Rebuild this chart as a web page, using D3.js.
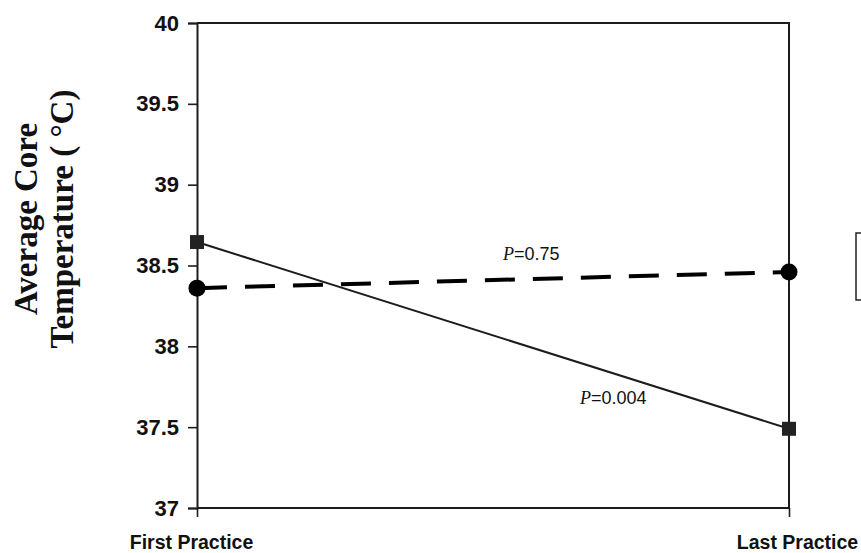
<!DOCTYPE html>
<html>
<head>
<meta charset="utf-8">
<script src="https://cdn.jsdelivr.net/npm/d3@7/dist/d3.min.js"></script>
<style>
  html, body { margin: 0; padding: 0; background: #fff; }
  svg { display: block; }
</style>
</head>
<body>
<svg id="chart" width="861" height="553"></svg>
<script>
// Practice sessions on the x axis
const sessions = ["First Practice", "Last Practice"];
// Average core temperature (°C) for each group
const solidSquares = [38.645, 37.49];
const dashedCircles = [38.36, 38.46];
// Y axis ticks
const yTicks = [37, 37.5, 38, 38.5, 39, 39.5, 40];
// P-value annotations
const pLabels = ["0.75", "0.004"];

const svg = d3.select("#chart");
const plotL = 197, plotR = 789, plotT = 23, plotB = 508;

const x = d3.scalePoint().domain(sessions).range([plotL, plotR]);
const y = d3.scaleLinear().domain([37, 40]).range([plotB, plotT]);

const ink = "#1c1c1c";

// Plot frame: top and right edges
svg.append("path")
  .attr("d", `M${plotL},${plotT}H${plotR}V${plotB}`)
  .attr("fill", "none").attr("stroke", ink).attr("stroke-width", 2);

// Y axis with outward ticks
const yAxis = svg.append("g")
  .attr("transform", `translate(${plotL},0)`)
  .call(d3.axisLeft(y).tickValues(yTicks).tickSize(9).tickPadding(9)
        .tickFormat(d => d3.format("")(d)));
yAxis.select(".domain").attr("stroke", ink).attr("stroke-width", 2);
yAxis.selectAll(".tick line").attr("stroke", ink).attr("stroke-width", 1.6);
yAxis.selectAll(".tick text")
  .attr("fill", "#111")
  .style("font-family", "'Liberation Sans', Arial, sans-serif")
  .style("font-weight", "bold")
  .style("font-size", "22px");

// X axis with downward ticks at each session
const xAxis = svg.append("g")
  .attr("transform", `translate(0,${plotB})`)
  .call(d3.axisBottom(x).tickSize(9).tickPadding(18));
xAxis.select(".domain").attr("stroke", ink).attr("stroke-width", 2)
  .attr("d", `M${plotL},0H${plotR}`);
xAxis.selectAll(".tick line").attr("stroke", ink).attr("stroke-width", 1.6);
xAxis.selectAll(".tick text")
  .attr("fill", "#111")
  .attr("dx", (d, i) => i === 0 ? -6 : 8)
  .style("font-family", "'Liberation Sans', Arial, sans-serif")
  .style("font-weight", "bold")
  .style("font-size", "19.5px");

// Y axis title, two lines, rotated
const title = svg.append("text")
  .attr("transform", "translate(0,219) rotate(-90)")
  .attr("text-anchor", "middle")
  .style("font-family", "'Liberation Serif', 'Times New Roman', serif")
  .style("font-weight", "bold")
  .style("font-size", "33px")
  .attr("fill", "#111");
title.append("tspan").attr("x", 0).attr("y", 37).text("Average Core");
title.append("tspan").attr("x", 0).attr("y", 73).text("Temperature ( °C)");

const line = d3.line().x((d, i) => x(sessions[i])).y(d => y(d));

// Solid series with squares
svg.append("path").datum(solidSquares)
  .attr("d", line).attr("fill", "none")
  .attr("stroke", ink).attr("stroke-width", 2);
svg.selectAll(".sq").data(solidSquares).enter().append("rect")
  .attr("x", (d, i) => x(sessions[i]) - 7)
  .attr("y", d => y(d) - 7)
  .attr("width", 14).attr("height", 14)
  .attr("fill", "#222");

// Dashed series with circles
svg.append("path").datum(dashedCircles)
  .attr("d", line).attr("fill", "none")
  .attr("stroke", "#000").attr("stroke-width", 4)
  .attr("stroke-dasharray", "30,18");
svg.selectAll(".ci").data(dashedCircles).enter().append("circle")
  .attr("cx", (d, i) => x(sessions[i]))
  .attr("cy", d => y(d))
  .attr("r", 8.5).attr("fill", "#000");

// P-value labels
function pLabel(px, py, val) {
  const t = svg.append("text").attr("x", px).attr("y", py)
    .style("font-size", "18px").attr("fill", "#111");
  t.append("tspan")
    .style("font-family", "'Liberation Serif', 'Times New Roman', serif")
    .style("font-style", "italic").text("P");
  t.append("tspan")
    .style("font-family", "'Liberation Sans', Arial, sans-serif")
    .text("=" + val);
}
pLabel(503, 260, pLabels[0]);
pLabel(580, 404, pLabels[1]);

// Legend frame at the right edge
svg.append("rect")
  .attr("x", 856).attr("y", 233).attr("width", 30).attr("height", 67)
  .attr("fill", "#fff").attr("stroke", "#222").attr("stroke-width", 1.5);
</script>
</body>
</html>
